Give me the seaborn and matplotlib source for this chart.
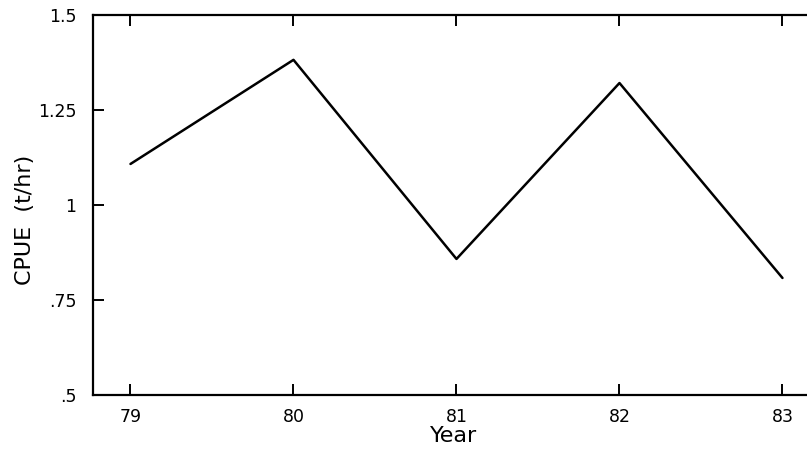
import matplotlib
matplotlib.use('Agg')
import matplotlib.pyplot as plt
import seaborn as sns
import pandas as pd

# values
years = [79, 80, 81, 82, 83]
cpue = [1.108, 1.382, 0.858, 1.321, 0.808]
ytick_vals = [0.5, 0.75, 1.0, 1.25, 1.5]
ytick_labels = ['.5', '.75', '1', '1.25', '1.5']

sns.set_theme(style='white')
plt.rcParams['font.family'] = ['DejaVu Sans']

df = pd.DataFrame({'Year': years, 'CPUE': cpue})

fig = plt.figure(figsize=(8.07, 4.49), dpi=100)
ax = fig.add_axes([93 / 807, 1 - 395 / 449, 1 - 93 / 807 + 0.01, (395 - 15) / 449])

sns.lineplot(data=df, x='Year', y='CPUE', color='black', linewidth=1.8, ax=ax)

ax.set_xlim(78.77, 83.2)
ax.set_ylim(0.5, 1.5)
ax.set_xticks(years)
ax.set_xticklabels([str(y) for y in years])
ax.set_yticks(ytick_vals)
ax.set_yticklabels(ytick_labels)

ax.tick_params(axis='both', direction='in', length=8, width=1.4, labelsize=12.5,
               colors='black', top=True, bottom=True, left=True, right=False)
ax.tick_params(axis='x', pad=9)
ax.tick_params(axis='y', pad=12)
for t in ax.get_xticklabels() + ax.get_yticklabels():
    t.set_fontweight('medium')

for side in ['left', 'top', 'bottom']:
    ax.spines[side].set_color('black')
    ax.spines[side].set_linewidth(1.6)
ax.spines['right'].set_visible(False)

ax.set_xlabel('Year', fontsize=16, color='black', labelpad=0)
ax.set_ylabel('CPUE  (t/hr)', fontsize=16, color='black')
ax.yaxis.set_label_coords(-0.08, 0.46)

fig.savefig('out.png', dpi=100, facecolor='white')
